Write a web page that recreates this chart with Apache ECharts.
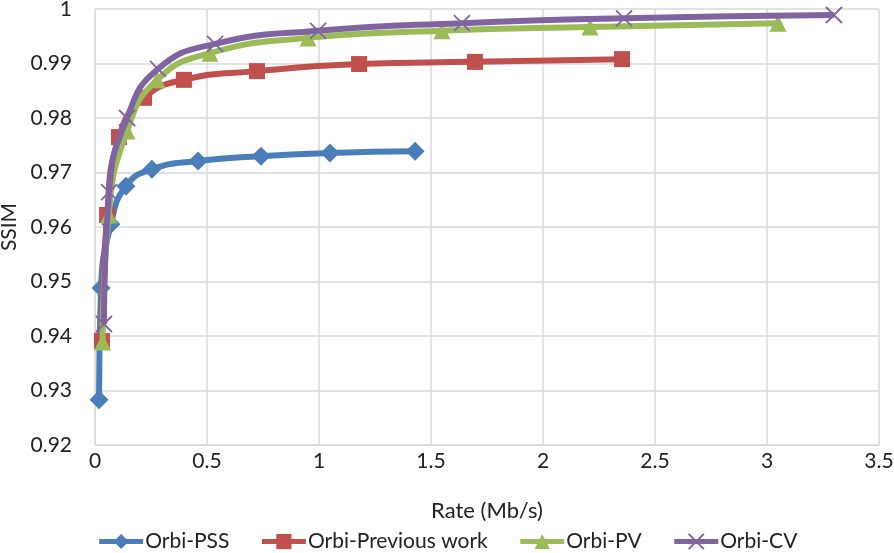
<!DOCTYPE html>
<html><head><meta charset="utf-8">
<script src="https://cdn.jsdelivr.net/npm/echarts@6/dist/echarts.min.js"></script>
<style>html,body{margin:0;padding:0;background:#fff}#c{width:894px;height:553px}</style>
</head><body><div id="c"></div>
<script>
const pssRate = [0.018, 0.027, 0.071, 0.138, 0.254, 0.46, 0.741, 1.049, 1.429];
const pssSsim = [0.9283, 0.9488, 0.9605, 0.9675, 0.9706, 0.9721, 0.9730, 0.9736, 0.9739];
const prevRate = [0.031, 0.054, 0.107, 0.219, 0.397, 0.723, 1.179, 1.696, 2.353];
const prevSsim = [0.9391, 0.9622, 0.9765, 0.9837, 0.9870, 0.9886, 0.9899, 0.9903, 0.9908];
const pvRate = [0.034, 0.061, 0.143, 0.277, 0.513, 0.951, 1.549, 2.21, 3.049];
const pvSsim = [0.9389, 0.9622, 0.9776, 0.9870, 0.9919, 0.9947, 0.9960, 0.9967, 0.9974];
const cvRate = [0.040, 0.063, 0.143, 0.281, 0.536, 0.996, 1.638, 2.362, 3.299];
const cvSsim = [0.9422, 0.9664, 0.9800, 0.9890, 0.9936, 0.9960, 0.9974, 0.9983, 0.9989];
const seriesNames = ['Orbi-PSS', 'Orbi-Previous work', 'Orbi-PV', 'Orbi-CV'];
const xTitle = 'Rate (Mb/s)';
const yTitle = 'SSIM';

const zip = (a, b) => a.map((v, i) => [v, b[i]]);
const FONT = 'Lato';
const FS = 21;
const colors = ['#4A7EBB', '#C0504D', '#9BBB59', '#8064A2'];
const symbols = ['diamond', 'rect', 'triangle', 'path://M0,0L10,10M10,0L0,10'];
const sizes = [19, 16, 17, 16];
const data = [zip(pssRate, pssSsim), zip(prevRate, prevSsim), zip(pvRate, pvSsim), zip(cvRate, cvSsim)];

const chart = echarts.init(document.getElementById('c'), null, {renderer: 'canvas'});
chart.setOption({
  animation: false,
  backgroundColor: '#fff',
  textStyle: {fontFamily: FONT},
  grid: {left: 95, right: 15, top: 9, bottom: 108, containLabel: false, outerBoundsMode: 'none'},
  xAxis: {
    type: 'value', min: 0, max: 3.5, interval: 0.5,
    name: xTitle, nameLocation: 'middle', nameGap: 55,
    nameTextStyle: {fontFamily: FONT, fontSize: 22, color: '#222'},
    axisLine: {show: true, lineStyle: {color: '#d9d9d9', width: 1}},
    axisTick: {show: false},
    axisLabel: {fontFamily: FONT, fontSize: FS, color: '#222', margin: 6},
    splitLine: {show: true, lineStyle: {color: '#d9d9d9', width: 1.5}}
  },
  yAxis: {
    type: 'value', min: 0.92, max: 1, interval: 0.01,
    name: yTitle, nameLocation: 'middle', nameGap: 75, nameRotate: 90,
    nameTextStyle: {fontFamily: FONT, fontSize: FS, color: '#222'},
    axisLine: {show: true, lineStyle: {color: '#d9d9d9', width: 1}},
    axisTick: {show: false},
    axisLabel: {fontFamily: FONT, fontSize: FS, color: '#222', margin: 23,
      formatter: v => String(+v.toFixed(2))},
    splitLine: {show: true, lineStyle: {color: '#d9d9d9', width: 1.5}}
  },
  legend: {
    top: 526, left: 'center', itemWidth: 44, itemHeight: 19, itemGap: 30,
    lineStyle: {width: 5},
    textStyle: {fontFamily: FONT, fontSize: FS, color: '#222', padding: [0, 0, 0, -3]},
    data: seriesNames
  },
  series: seriesNames.map((n, i) => ({
    name: n, type: 'line', data: data[i], smooth: 0.5,
    symbol: symbols[i], symbolSize: sizes[i], showSymbol: true,
    lineStyle: {color: colors[i], width: 6},
    itemStyle: i === 3 ? {color: colors[i], borderColor: colors[i], borderWidth: 1.8}
                       : {color: colors[i], borderWidth: 0},
    z: 2 + i
  }))
});
</script></body></html>
